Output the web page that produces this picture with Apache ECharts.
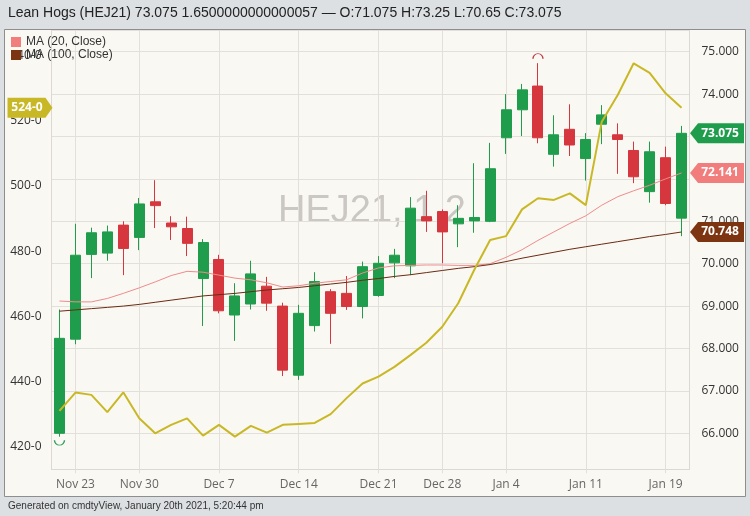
<!DOCTYPE html>
<html><head><meta charset="utf-8">
<script src="https://cdn.jsdelivr.net/npm/echarts@6/dist/echarts.min.js"></script>
<style>html,body{margin:0;padding:0;background:#dde0e3}#c{width:750px;height:516px}</style>
</head><body><div id="c"></div>
<script>
const dates = ['Nov 20','Nov 23','Nov 24','Nov 25','Nov 27','Nov 30','Dec 1','Dec 2','Dec 3','Dec 4','Dec 7','Dec 8','Dec 9','Dec 10','Dec 11','Dec 14','Dec 15','Dec 16','Dec 17','Dec 18','Dec 21','Dec 22','Dec 23','Dec 24','Dec 28','Dec 29','Dec 30','Dec 31','Jan 4','Jan 5','Jan 6','Jan 7','Jan 8','Jan 11','Jan 12','Jan 13','Jan 14','Jan 15','Jan 19','Jan 20'];
const tickLabels = ['Nov 23','Nov 30','Dec 7','Dec 14','Dec 21','Dec 28','Jan 4','Jan 11','Jan 19'];
const opens  = [66.00,68.22,70.22,70.25,70.91,70.62,71.46,70.96,70.83,69.65,70.10,68.79,69.05,69.47,69.00,67.37,68.54,69.34,69.30,68.99,69.25,70.02,69.95,71.11,71.23,70.94,71.01,71.00,72.97,73.63,74.19,72.58,73.17,72.48,73.29,73.04,72.67,71.70,72.50,71.075];
const closes = [68.24,70.20,70.73,70.75,70.36,71.41,71.37,70.87,70.48,70.50,68.89,69.24,69.76,69.07,67.49,68.83,69.58,68.83,68.99,69.93,70.01,70.20,71.31,71.01,70.75,71.07,71.09,72.24,73.63,74.10,72.97,73.04,72.80,72.93,73.51,72.93,72.05,72.64,71.42,73.075];
const lows   = [65.92,68.10,69.66,70.07,69.73,70.32,70.84,70.56,70.18,68.53,68.83,68.18,68.92,68.89,67.35,67.26,68.40,68.11,68.91,68.71,69.22,69.66,69.73,70.75,70.01,70.39,70.73,70.98,72.59,73.01,72.84,72.29,72.54,71.96,72.82,72.12,71.90,71.44,71.38,70.65];
const highs  = [68.92,70.94,70.85,70.90,71.00,71.55,71.97,71.12,71.11,70.58,70.21,69.54,70.07,69.69,69.08,69.03,69.80,69.40,69.71,70.05,70.18,70.35,71.57,71.72,71.28,71.38,72.37,72.85,74.00,74.24,74.73,73.50,73.76,73.08,73.74,73.31,72.88,72.88,72.76,73.25];
const ma20   = [69.12,69.10,69.10,69.18,69.30,69.43,69.57,69.72,69.82,69.80,69.73,69.66,69.62,69.55,69.45,69.48,69.54,69.58,69.62,69.78,69.90,69.95,69.96,69.97,69.97,69.96,69.96,70.00,70.15,70.33,70.55,70.75,70.95,71.13,71.38,71.58,71.72,71.85,72.00,72.141];
const ma100  = [68.88,68.91,68.94,68.97,69.00,69.04,69.09,69.14,69.19,69.24,69.27,69.30,69.34,69.38,69.41,69.44,69.48,69.52,69.56,69.61,69.65,69.70,69.74,69.79,69.84,69.89,69.93,69.98,70.05,70.13,70.20,70.27,70.34,70.40,70.46,70.52,70.58,70.64,70.69,70.748];
const spread = [431.0,436.6,435.9,430.6,436.7,428.7,424.1,426.7,428.7,423.4,426.7,423.1,426.4,424.3,426.7,427.0,427.3,430.0,434.9,439.4,441.5,444.5,448.1,451.9,456.8,464.0,474.2,483.4,484.6,492.8,496.2,495.7,497.7,494.1,519.7,527.9,537.6,534.7,528.4,524.0];

const titleText = 'Lean Hogs (HEJ21) 73.075 1.6500000000000057 \u2014 O:71.075 H:73.25 L:70.65 C:73.075';
const footerText = 'Generated on cmdtyView, January 20th 2021, 5:20:44 pm';

const GREEN = '#1f9d4c', RED = '#d6363d', PINK = '#f27d7d', BROWN = '#7d3410', YELLOW = '#c9b826';
const gridColor = '#e3e0db', frameColor = '#dcd8d3';
const isTick = (i, v) => tickLabels.indexOf(v) >= 0;
const last = dates.length - 1;
const tagRight = 'path://M0,10L8,0L54,0L54,20L8,20Z';
const tagLeft = 'path://M0,0L38,0L45,10L38,20L0,20Z';
const tagLabel = {show: true, color: '#fff', fontWeight: 'bold', fontSize: 12, fontFamily: 'Open Sans', offset: [3, 0]};

const chart = echarts.init(document.getElementById('c'), null, {renderer: 'canvas'});
chart.setOption({
  backgroundColor: '#dde0e3',
  animation: false,
  textStyle: {fontFamily: 'Liberation Sans, Arial, sans-serif'},
  graphic: [
    {type: 'rect', z: -10, silent: true, shape: {x: 4.5, y: 29.5, width: 741, height: 467}, style: {fill: '#faf8f3', stroke: 'none'}},
    {type: 'text', z: -5, silent: true, x: 372, y: 212, style: {text: 'HEJ21, 1,2', fontSize: 38, fontFamily: 'Liberation Sans', fill: '#cbc8c4', align: 'center', verticalAlign: 'middle'}},
    {type: 'rect', z: 100, silent: true, shape: {x: 4.5, y: 29.5, width: 741, height: 467}, style: {fill: 'none', stroke: '#8e8e8e', lineWidth: 1}},
    {type: 'text', silent: true, x: 8, y: 13, style: {text: titleText, fontSize: 14, fontFamily: 'Liberation Sans', fill: '#222', verticalAlign: 'middle'}},
    {type: 'text', silent: true, x: 8, y: 506, style: {text: footerText, fontSize: 10, fontFamily: 'Liberation Sans', fill: '#333', verticalAlign: 'middle'}}
  ],
  legend: {
    data: ['MA (20, Close)', 'MA (100, Close)'], orient: 'vertical', left: 6, top: 31,
    icon: 'rect', itemWidth: 10, itemHeight: 10, itemGap: 1, selectedMode: false,
    textStyle: {fontSize: 12, color: '#333', fontFamily: 'Liberation Sans'}
  },
  grid: {left: 51.5, right: 60.5, top: 30, bottom: 46.7, containLabel: false, outerBoundsMode: 'none'},
  xAxis: {
    type: 'category', data: dates, boundaryGap: true,
    axisLine: {show: true, lineStyle: {color: frameColor}},
    axisTick: {show: true, alignWithLabel: true, interval: isTick, length: 4, lineStyle: {color: gridColor}},
    axisLabel: {interval: isTick, color: '#666', fontSize: 12, fontFamily: 'Open Sans', margin: 9},
    splitLine: {show: true, interval: isTick, alignWithLabel: true, lineStyle: {color: gridColor}}
  },
  yAxis: [
    {type: 'value', position: 'right', min: 65.151, max: 75.512, splitNumber: 10,
     axisLine: {show: true, lineStyle: {color: frameColor}}, axisTick: {show: false},
     axisLabel: {color: '#333', fontSize: 12, fontFamily: 'Open Sans', margin: 12, showMinLabel: false, showMaxLabel: false,
                 formatter: v => v.toFixed(3)},
     splitLine: {show: true, lineStyle: {color: gridColor}}},
    {type: 'value', position: 'left', min: 413.07, max: 547.82, splitNumber: 7,
     axisLine: {show: true, lineStyle: {color: frameColor}}, axisTick: {show: false},
     axisLabel: {color: '#333', fontSize: 12, fontFamily: 'Open Sans', margin: 10, showMinLabel: false, showMaxLabel: false,
                 formatter: v => v + '-0'},
     splitLine: {show: false}}
  ],
  series: [
    {name: 'MA (20, Close)', type: 'line', yAxisIndex: 0, data: ma20, symbol: 'none',
     itemStyle: {color: PINK}, lineStyle: {color: '#ee8c8c', width: 1},
     markPoint: {silent: true, symbol: tagRight, symbolSize: [54, 20], symbolOffset: [35.5, 0], itemStyle: {color: PINK},
                 label: Object.assign({}, tagLabel, {formatter: p => p.value.toFixed(3)}),
                 data: [{coord: [dates[last], ma20[last]], value: ma20[last]}]}},
    {name: 'MA (100, Close)', type: 'line', yAxisIndex: 0, data: ma100, symbol: 'none',
     itemStyle: {color: BROWN}, lineStyle: {color: '#6b2a12', width: 1},
     markPoint: {silent: true, symbol: tagRight, symbolSize: [54, 20], symbolOffset: [35.5, 0], itemStyle: {color: BROWN},
                 label: Object.assign({}, tagLabel, {formatter: p => p.value.toFixed(3)}),
                 data: [{coord: [dates[last], ma100[last]], value: ma100[last]}]}},
    {name: 'HEJ21', type: 'candlestick', yAxisIndex: 0, barWidth: 10.5, clip: false,
     data: dates.map((d, i) => [opens[i], closes[i], lows[i], highs[i]]),
     itemStyle: {color: GREEN, color0: RED, borderColor: GREEN, borderColor0: RED, borderWidth: 1},
     markPoint: {silent: true, data: [
       {coord: [dates[last], closes[last]], value: closes[last], symbol: tagRight, symbolSize: [54, 20], symbolOffset: [35.5, 0],
        itemStyle: {color: GREEN}, label: Object.assign({}, tagLabel, {formatter: p => p.value.toFixed(3)})},
       {type: 'max', valueDim: 'highest', symbol: 'path://M0,10A10,10 0 0 1 20,10', symbolSize: [10, 5], symbolOffset: [0, -7],
        itemStyle: {color: 'transparent', borderColor: '#c03a40', borderWidth: 1}, label: {show: false}},
       {type: 'min', valueDim: 'lowest', symbol: 'path://M0,0A10,10 0 0 0 20,0', symbolSize: [10, 5], symbolOffset: [0, 6],
        itemStyle: {color: 'transparent', borderColor: '#2f9f5a', borderWidth: 1}, label: {show: false}}
     ]}},
    {name: 'HEJ21, 1,2', type: 'line', yAxisIndex: 1, data: spread, symbol: 'none',
     itemStyle: {color: YELLOW}, lineStyle: {color: YELLOW, width: 2},
     markPoint: {silent: true, symbol: tagLeft, symbolSize: [45, 20], symbolOffset: [-29.5, 0], itemStyle: {color: YELLOW},
                 label: Object.assign({}, tagLabel, {offset: [-3, 0], formatter: p => Math.round(p.value) + '-0'}),
                 data: [{coord: [dates[0], spread[last]], value: spread[last]}]}}
  ]
});
</script></body></html>
